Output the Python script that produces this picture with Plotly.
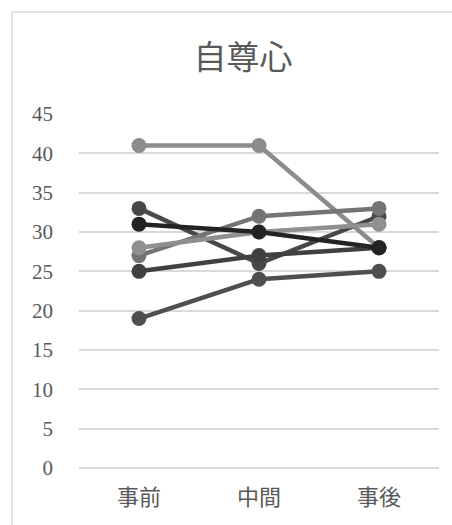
import plotly.graph_objects as go

# Self-esteem scores per participant at three measurement points
stages = ["事前", "中間", "事後"]
p1 = [41, 41, 28]
p2 = [33, 26, 32]
p3 = [31, 30, 28]
p4 = [27, 32, 33]
p5 = [28, 30, 31]
p6 = [25, 27, 28]
p7 = [19, 24, 25]
y_ticks = [0, 5, 10, 15, 20, 25, 30, 35, 40, 45]

series = [
    (p1, "#8c8c8c"),
    (p2, "#484848"),
    (p4, "#747474"),
    (p5, "#8f8f8f"),
    (p6, "#404040"),
    (p7, "#4f4f4f"),
    (p3, "#232323"),
]

serif = "Liberation Serif, DejaVu Serif, Noto Sans CJK JP, serif"

fig = go.Figure()
for vals, col in series:
    fig.add_trace(go.Scatter(
        x=stages, y=vals, mode="lines+markers",
        line=dict(color=col, width=4.5),
        marker=dict(color=col, size=15),
        showlegend=False, hoverinfo="skip",
    ))

W, H = 452, 525
L, R, T, B = 79, 13, 114, 57
pw, ph = W - L - R, H - T - B

fig.update_layout(
    width=W, height=H,
    margin=dict(l=L, r=R, t=T, b=B),
    paper_bgcolor="white", plot_bgcolor="white",
    title=dict(text="自尊心", x=243 / W, xref="container", xanchor="center",
               y=1 - 57 / H, yref="container", yanchor="middle",
               font=dict(family=serif, size=33, color="#595959")),
    font=dict(family=serif, color="#595959"),
)
fig.update_xaxes(
    range=[-0.5, 2.5], showgrid=False, zeroline=False, showline=False,
    ticks="", tickfont=dict(size=22, color="#595959"), ticklabelstandoff=14,
)
fig.update_yaxes(
    range=[0, 45], tickvals=y_ticks, showgrid=True, gridcolor="#d9d9d9",
    gridwidth=1.5, zeroline=True, zerolinecolor="#d9d9d9", zerolinewidth=1.5,
    showline=False, ticks="",
    tickfont=dict(size=21, color="#595959"), ticklabelstandoff=25,
)
# Chart area frame
fig.add_shape(
    type="rect", xref="paper", yref="paper",
    x0=(12 - L) / pw, x1=1.5, y0=-0.5, y1=(H - B - 12) / ph,
    line=dict(color="#d9d9d9", width=1.5), fillcolor="rgba(0,0,0,0)",
    layer="below",
)

fig.write_html("out.html")
